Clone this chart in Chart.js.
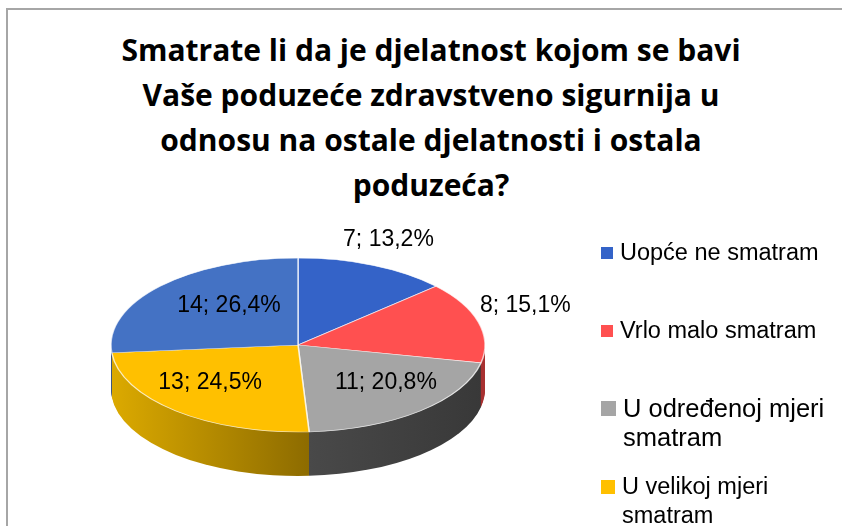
<!DOCTYPE html>
<html>
<head>
<meta charset="utf-8">
<script src="https://cdn.jsdelivr.net/npm/chart.js@4/dist/chart.umd.min.js"></script>
<style>
  html, body { margin: 0; padding: 0; background: #fff; overflow: hidden; }
  body { width: 842px; height: 526px; position: relative; }
  #frame { position: absolute; left: 6px; top: 8px; width: 834px; height: 516px;
    border-left: 2px solid #a6a6a6; border-top: 2px solid #a6a6a6; }
  #title { position: absolute; left: 0; width: 842px; padding-left: 20px; box-sizing: border-box; top: 27px; text-align: center;
    font-family: "Open Sans", sans-serif; font-weight: 700; font-size: 30px; line-height: 45px; color: #000; }
  #chart { position: absolute; left: 0; top: 0; }
  #legend { position: absolute; left: 601px; top: 238px; width: 236px;
    font-family: "Liberation Sans", Arial, sans-serif; color: #000; }
  .item { height: 78px; display: flex; align-items: flex-start; }
  .box { flex: none; margin-right: 7px; }
  .txt { line-height: 29px; }
</style>
</head>
<body>
<div id="frame"></div>
<div id="title">Smatrate li da je djelatnost kojom se bavi<br>Vaše poduzeće zdravstveno sigurnija u<br>odnosu na ostale djelatnosti i ostala<br>poduzeća?</div>
<canvas id="chart" width="842" height="526"></canvas>
<div id="legend"></div>
<script>
// Pie data
const categories = [
  "Uopće ne smatram",
  "Vrlo malo smatram",
  "U određenoj mjeri smatram",
  "U velikoj mjeri smatram",
  "U potpunosti smatram",
];
const counts = [7, 8, 11, 13, 14];

// Colors (top face and side wall)
const topColors = ["#3463c8", "#ff5050", "#a5a5a5", "#ffc000", "#4472c4"];
const sideColors = [
  ["#213f8c", "#213f8c"],
  ["#a83030", "#a83030"],
  ["#4a4a4a", "#383838"],
  ["#dcaa00", "#8a6900"],
  ["#2c4d8c", "#2c4d8c"],
];

const TILT = 87 / 187; // vertical squash of the pie
const DEPTH = 44; // side wall height in px
const labelRadius = [1.2, 1.26, 0.72, 0.72, 0.5];
const LIFT = 10;

const total = counts.reduce((a, b) => a + b, 0);
const pctText = counts.map((v) => `${v}; ${((v / total) * 100).toFixed(1).replace(".", ",")}%`);

// Legend (HTML)
const legendSizes = [23.5, 23.5, 25.5, 23.5, 23.5];
const boxSizes = [12, 12, 15, 14, 14];
const legend = document.getElementById("legend");
categories.forEach((name, i) => {
  const item = document.createElement("div");
  item.className = "item";
  const box = document.createElement("span");
  box.className = "box";
  box.style.width = boxSizes[i] + "px";
  box.style.height = boxSizes[i] + "px";
  box.style.marginTop = (29 - boxSizes[i]) / 2 + "px";
  box.style.background = topColors[i];
  const txt = document.createElement("span");
  txt.className = "txt";
  txt.style.fontSize = legendSizes[i] + "px";
  txt.textContent = name;
  item.appendChild(box);
  item.appendChild(txt);
  legend.appendChild(item);
});

// Fake 3D: squash the pie and paint a side wall under it
const pie3d = {
  id: "pie3d",
  beforeDatasetsDraw(chart) {
    const ctx = chart.ctx;
    const arcs = chart.getDatasetMeta(0).data;
    const cx = arcs[0].x;
    const cy = arcs[0].y;
    ctx.save();
    ctx.translate(cx, cy);
    ctx.scale(1, TILT);
    ctx.translate(-cx, -cy);

    for (let d = DEPTH; d > 0; d -= 1) {
      arcs.forEach((arc, i) => {
        const p = arc.getProps(["startAngle", "endAngle", "outerRadius"]);
        const oy = cy + d / TILT;
        let grad;
        if (i === 2) {
          grad = ctx.createLinearGradient(cx, 0, cx + p.outerRadius, 0);
        } else {
          grad = ctx.createLinearGradient(cx - p.outerRadius, 0, cx + p.outerRadius * 0.1, 0);
        }
        grad.addColorStop(0, sideColors[i][0]);
        grad.addColorStop(1, sideColors[i][1]);
        ctx.fillStyle = grad;
        ctx.beginPath();
        ctx.moveTo(cx, oy);
        ctx.arc(cx, oy, p.outerRadius, p.startAngle, p.endAngle);
        ctx.closePath();
        ctx.fill();
      });
    }
  },
  afterDatasetsDraw(chart) {
    const ctx = chart.ctx;
    ctx.restore();

    // data labels
    const arcs = chart.getDatasetMeta(0).data;
    ctx.save();
    ctx.font = '23px "Liberation Sans", Arial, sans-serif';
    ctx.fillStyle = "#000";
    ctx.textAlign = "center";
    ctx.textBaseline = "middle";
    arcs.forEach((arc, i) => {
      const p = arc.getProps(["x", "y", "startAngle", "endAngle", "outerRadius"]);
      const mid = (p.startAngle + p.endAngle) / 2;
      const f = labelRadius[i];
      const x = p.x + Math.cos(mid) * p.outerRadius * f;
      const y = p.y + Math.sin(mid) * p.outerRadius * TILT * f - LIFT;
      ctx.fillText(pctText[i], x, y);
    });
    ctx.restore();
  },
};

const ctx = document.getElementById("chart").getContext("2d");
new Chart(ctx, {
  type: "pie",
  data: {
    labels: categories,
    datasets: [
      {
        data: counts,
        backgroundColor: topColors,
        borderColor: "rgba(255,255,255,0.75)",
        borderWidth: 1.5,
        radius: 187,
        clip: false,
      },
    ],
  },
  options: {
    responsive: false,
    animation: false,
    layout: { padding: { left: 111, right: 357, top: 164, bottom: 0 } },
    plugins: {
      legend: { display: false },
      tooltip: { enabled: false },
    },
  },
  plugins: [pie3d],
});
</script>
</body>
</html>
